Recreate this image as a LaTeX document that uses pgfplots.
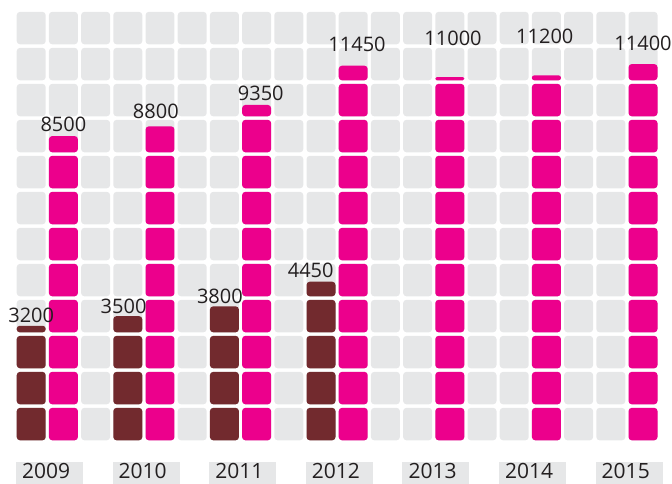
\documentclass[border=0pt]{standalone}
\usepackage{pgfplots}
\pgfplotsset{compat=1.18}
\usepackage{pgfplotstable}
\usepackage{fontspec}
\setmainfont{Open Sans}

\definecolor{cellgray}{HTML}{E6E7E8}
\definecolor{barpink}{HTML}{EC008C}
\definecolor{barbrown}{HTML}{722A2E}
\definecolor{txt}{HTML}{231F20}

% one cell = 1000; column index of the brown column, pink one is col+1
% (the last four pink columns are drawn one cell short in the original)
\pgfplotstableread{
year col brown pink
2009 0  3.2  8.5
2010 3  3.5  8.8
2011 6  3.8  9.35
2012 9  4.45 10.45
2013 12 0    10.1
2014 15 0    10.15
2015 18 0    10.5
}\waffle

% one rounded cell: col, row, filled fraction, colour
\newcommand\cell[4]{%
  \pgfmathsetmacro\xa{#1-0.45}%
  \pgfmathsetmacro\xb{#1+0.45}%
  \pgfmathsetmacro\ya{#2+0.05}%
  \pgfmathsetmacro\yb{#2+0.05+0.9*#3}%
  \pgfmathsetmacro\rc{min(1.6,7.2*#3)}%
  \edef\tmp{\noexpand\addplot[fill=#4,draw=none,rounded corners=\rc bp]
    coordinates {(\xa,\ya) (\xb,\ya) (\xb,\yb) (\xa,\yb)} -- cycle;}%
  \tmp}

% a stack of cells: col, value, colour
\newcommand\stack[3]{%
  \pgfmathtruncatemacro\nfull{floor(#2+0.0001)}%
  \pgfmathsetmacro\cellpart{#2-\nfull}%
  \ifnum\nfull>0
    \pgfmathtruncatemacro\nlast{\nfull-1}%
    \foreach \k in {0,...,\nlast}{\cell{#1}{\k}{1}{#3}}%
  \fi
  \pgfmathtruncatemacro\haspart{\cellpart>0.01}%
  \ifnum\haspart=1 \cell{#1}{\nfull}{\cellpart}{#3}\fi}

\tikzset{lab/.style={anchor=base,inner sep=0pt,text=txt,
  font=\fontsize{10bp}{12bp}\selectfont}}

\begin{document}
\begin{tikzpicture}
\begin{axis}[
  scale only axis,
  width=336bp, height=242bp,
  xmin=-0.969, xmax=19.90,
  ymin=-1.164, ymax=12.28,
  hide axis, clip=false
]
  % grey background grid
  \foreach \c in {0,...,19}{\foreach \r in {0,...,11}{\cell{\c}{\r}{1}{cellgray}}}

  % data columns and year tags
  \foreach \i in {0,...,6}{%
    \pgfplotstablegetelem{\i}{col}\of\waffle \let\cc\pgfplotsretval
    \pgfplotstablegetelem{\i}{brown}\of\waffle \let\vb\pgfplotsretval
    \pgfplotstablegetelem{\i}{pink}\of\waffle \let\vp\pgfplotsretval
    \pgfplotstablegetelem{\i}{year}\of\waffle \let\yr\pgfplotsretval
    \pgfmathtruncatemacro\cp{\cc+1}%
    \stack{\cc}{\vb}{barbrown}%
    \stack{\cp}{\vp}{barpink}%
    \pgfmathsetmacro\bxa{\cc-0.47}%
    \pgfmathsetmacro\bxb{\cc+1.61}%
    \pgfmathsetmacro\tx{\cc-0.295}%
    \edef\tmp{\noexpand\fill[cellgray] (axis cs:\bxa,-0.544) rectangle (axis cs:\bxb,-1.164);
      \noexpand\node[anchor=base west,inner sep=0pt,text=txt,
        font=\noexpand\fontsize{10.5bp}{12bp}\noexpand\selectfont] at (axis cs:\tx,-1.025) {\yr};}%
    \tmp}

  % value labels
  \node[lab] at (axis cs:0,3.32) {3200};
  \node[lab] at (axis cs:2.87,3.56) {3500};
  \node[lab] at (axis cs:5.86,3.84) {3800};
  \node[lab] at (axis cs:8.68,4.58) {4450};
  \node[lab] at (axis cs:1,8.62) {8500};
  \node[lab] at (axis cs:3.87,8.99) {8800};
  \node[lab] at (axis cs:7.13,9.48) {9350};
  \node[lab] at (axis cs:10.12,10.84) {11450};
  \node[lab] at (axis cs:13.1,11.03) {11000};
  \node[lab] at (axis cs:15.95,11.08) {11200};
  \node[lab] at (axis cs:19,10.89) {11400};
\end{axis}
\pgfresetboundingbox
\path (current axis.south west) rectangle (current axis.north east);
\end{tikzpicture}
\end{document}
